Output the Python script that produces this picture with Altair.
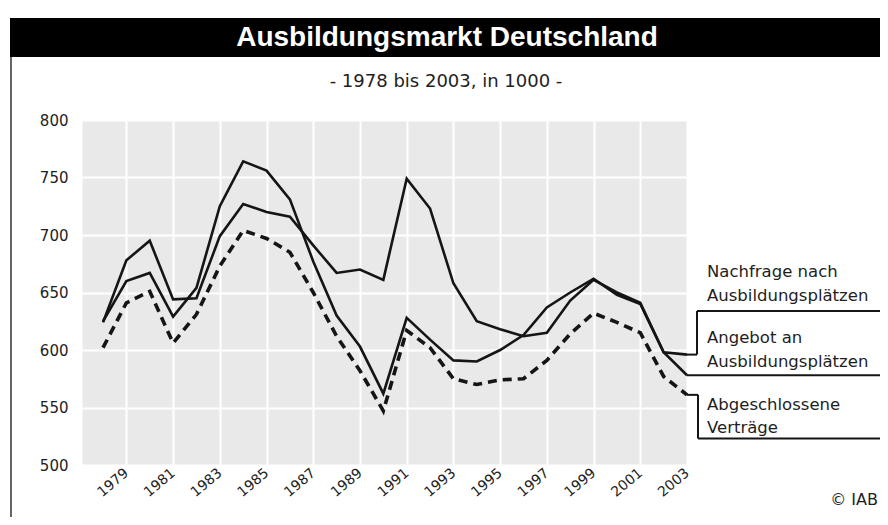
import altair as alt
import pandas as pd

# ---- data (in 1000) ----
years = list(range(1978, 2004))
nachfrage = [625, 660, 667, 629, 654, 725, 764, 756, 731, 677, 630, 603, 562,
             628, 609, 591, 590, 600, 613, 637, 650, 662, 648, 640, 598, 596]
angebot = [624, 678, 695, 644, 645, 699, 727, 720, 716, 691, 667, 670, 661,
           749, 723, 658, 625, 618, 612, 615, 643, 661, 650, 641, 598, 578]
vertraege = [602, 641, 651, 606, 631, 673, 704, 697, 685, 650, 612, 582, 547,
             617, 602, 575, 570, 574, 575, 591, 614, 632, 624, 615, 577, 561]
series_names = ["Nachfrage nach Ausbildungsplätzen",
                "Angebot an Ausbildungsplätzen",
                "Abgeschlossene Verträge"]
y_ticks = [500, 550, 600, 650, 700, 750, 800]
x_ticks = list(range(1979, 2004, 2))
title_text = "Ausbildungsmarkt Deutschland"
subtitle_text = "- 1978 bis 2003, in 1000  -"
source_text = "© IAB"
nachfrage_underline = 634   # level of the label underline (value units)
vertraege_underline = 523

rows = []
for name, vals in zip(series_names, [nachfrage, angebot, vertraege]):
    for yr, v in zip(years, vals):
        rows.append({"Jahr": yr, "Wert": v, "Reihe": name})
df = pd.DataFrame(rows)

W, H = 605, 345
RIGHT = 798  # right edge of drawable area, in plot coordinates
FONT = "DejaVu Sans"
INK = "#151515"
TXT = "#1e1e1e"

x_scale = alt.Scale(domain=[1977.1, 2003], nice=False, zero=False)
y_scale = alt.Scale(domain=[500, 800], nice=False, zero=False)

x_enc = alt.X("Jahr:Q", scale=x_scale, axis=alt.Axis(
    values=x_ticks, format="d", labelAngle=-40, labelAlign="right",
    labelBaseline="middle", labelPadding=6, labelFontSize=14, labelFont=FONT,
    labelColor=TXT, labelFlush=False, labelOverlap=False,
    grid=True, gridColor="white", gridWidth=2, domain=False, ticks=False,
    title=None))
y_enc = alt.Y("Wert:Q", scale=y_scale, axis=alt.Axis(
    values=y_ticks, labelFontSize=15, labelFont=FONT, labelColor=TXT,
    labelPadding=14, labelFlush=False, grid=True, gridColor="white",
    gridWidth=2, domain=False, ticks=False, title=None))

base = alt.Chart(df)
solid = base.transform_filter(
    alt.datum.Reihe != "Abgeschlossene Verträge"
).mark_line(color=INK, strokeWidth=2.6).encode(x=x_enc, y=y_enc, detail="Reihe:N")
dashed = base.transform_filter(
    alt.datum.Reihe == "Abgeschlossene Verträge"
).mark_line(color=INK, strokeWidth=3.6, strokeDash=[9, 6]).encode(x=x_enc, y=y_enc)

one = pd.DataFrame({"k": [0]})
ann = alt.Chart(one)

# title banner
banner = ann.mark_rect(color="black").encode(
    x=alt.value(-72), x2=alt.value(RIGHT + 2), y=alt.value(-102), y2=alt.value(-63))
title = ann.mark_text(text=title_text, font="Liberation Sans", fontWeight="bold",
                      fontSize=28, color="white", align="center",
                      baseline="middle").encode(x=alt.value(365), y=alt.value(-82))
subtitle = ann.mark_text(text=subtitle_text, font=FONT, fontSize=18, color=TXT,
                         align="center", baseline="middle").encode(
    x=alt.value(364), y=alt.value(-38))
left_border = ann.mark_rule(color="#666", strokeWidth=2).encode(
    x=alt.value(-71), y=alt.value(-63), y2=alt.value(405))
source = ann.mark_text(text=source_text, font=FONT, fontSize=16, color=TXT,
                       align="right", baseline="middle").encode(
    x=alt.value(RIGHT - 2), y=alt.value(380))

# leader lines to the labels
def hrule(x1, x2, v):
    return ann.mark_rule(color=INK, strokeWidth=2).encode(
        x=alt.value(x1), x2=alt.value(x2), y=alt.datum(v))

def vrule(x, v1, v2):
    return ann.mark_rule(color=INK, strokeWidth=2).encode(
        x=alt.value(x), y=alt.datum(v1), y2=alt.datum(v2))

leaders = [
    hrule(W, 615, nachfrage[-1]),
    vrule(615, nachfrage[-1], nachfrage_underline),
    hrule(615, RIGHT + 2, nachfrage_underline),
    hrule(W, RIGHT + 2, angebot[-1]),
    hrule(W, 616, vertraege[-1]),
    vrule(616, vertraege[-1], vertraege_underline),
    hrule(616, RIGHT + 2, vertraege_underline),
]

def label(txt, y):
    return ann.mark_text(text=txt, font=FONT, fontSize=16.5, color=TXT,
                         align="left", baseline="middle").encode(
        x=alt.value(625), y=alt.value(y))

labels = [
    label("Nachfrage nach", 152),
    label("Ausbildungsplätzen", 176),
    label("Angebot an", 218),
    label("Ausbildungsplätzen", 242),
    label("Abgeschlossene", 285),
    label("Verträge", 308),
]

chart = alt.layer(
    solid, dashed, banner, title, subtitle, left_border, source, *leaders, *labels
).properties(
    width=W, height=H,
    autosize=alt.AutoSizeParams(type="none"),
    padding={"left": 74, "top": 112, "right": 193, "bottom": 52},
    background="white",
).configure_view(fill="#e9e9e9", stroke="transparent")

chart.save("out.html", embed_options={"renderer": "svg", "actions": False})
